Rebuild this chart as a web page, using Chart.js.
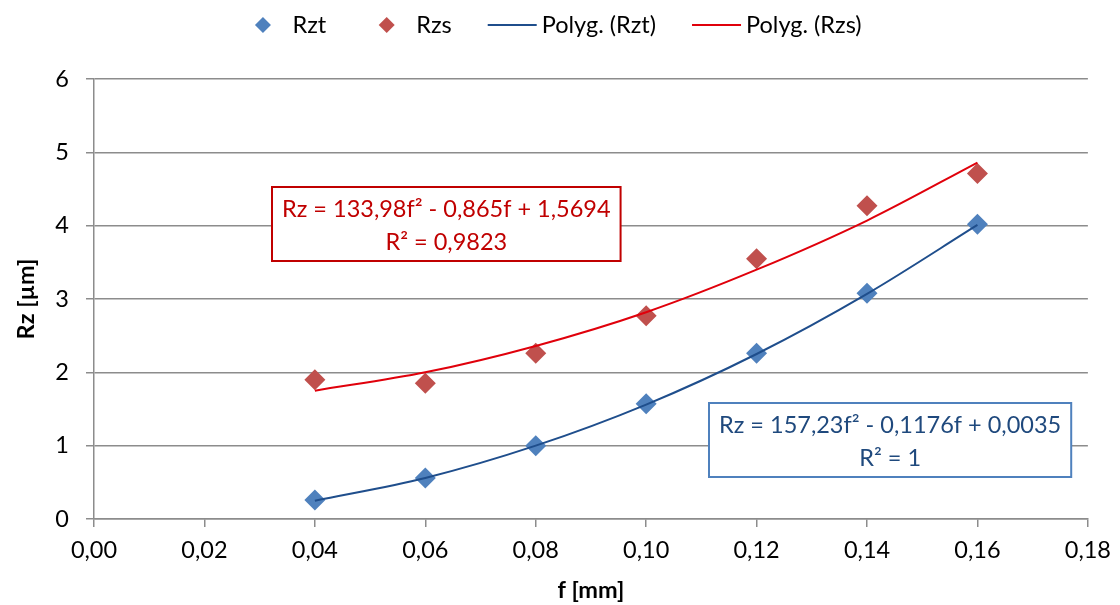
<!DOCTYPE html>
<html>
<head>
<meta charset="utf-8">
<script src="https://cdn.jsdelivr.net/npm/chart.js@4.4.1/dist/chart.umd.min.js"></script>
<style>
  html, body { margin: 0; padding: 0; background: #fff; }
</style>
</head>
<body>
<canvas id="chart" width="1120" height="605"></canvas>
<script>
// feed values f [mm]
const fValues = [0.04, 0.06, 0.08, 0.10, 0.12, 0.14, 0.16];
// measured roughness
const rztValues = [0.26, 0.56, 1.00, 1.57, 2.26, 3.08, 4.02];
const rzsValues = [1.90, 1.85, 2.26, 2.77, 3.55, 4.27, 4.71];
// trendline (Polyg.) values at each f
const rztTrend = [0.25, 0.56, 1.00, 1.56, 2.25, 3.07, 4.01];
const rzsTrend = [1.75, 2.00, 2.36, 2.82, 3.40, 4.07, 4.86];

const xTicks = [0, 0.02, 0.04, 0.06, 0.08, 0.10, 0.12, 0.14, 0.16, 0.18];
const yTicks = [0, 1, 2, 3, 4, 5, 6];

const seriesNames = ['Rzt', 'Rzs', 'Polyg. (Rzt)', 'Polyg. (Rzs)'];
const rzsEquation = ['Rz = 133,98f² - 0,865f + 1,5694', 'R² = 0,9823'];
const rztEquation = ['Rz = 157,23f² - 0,1176f + 0,0035', 'R² = 1'];

const FONT = 'Lato, "Open Sans", sans-serif';
const FS = 23.5;
const BLUE_PT = '#4F81BD';
const RED_PT = '#C0504D';
const BLUE_LN = '#1F4E8C';
const RED_LN = '#E0000B';
const GRID = '#8C8C8C';

function toPoints(ys) {
    return fValues.map((f, i) => ({ x: f, y: ys[i] }));
}

// draws the legend row at the top (diamonds for points, short lines for trendlines)
const legendPlugin = {
    id: 'topLegend',
    afterDraw(chart) {
        const ctx = chart.ctx;
        const items = [
            { text: seriesNames[0], kind: 'diamond', color: BLUE_PT },
            { text: seriesNames[1], kind: 'diamond', color: RED_PT },
            { text: seriesNames[2], kind: 'line', color: BLUE_LN },
            { text: seriesNames[3], kind: 'line', color: RED_LN }
        ];
        ctx.save();
        ctx.font = FS + 'px ' + FONT;
        const symW = 49, gapText = 5, gapItem = 36;
        let total = 0;
        items.forEach((it, i) => {
            it.w = ctx.measureText(it.text).width;
            total += symW + gapText + it.w + (i < items.length - 1 ? gapItem : 0);
        });
        let x = 550 - total / 2;
        const y = 25;
        items.forEach(it => {
            const cx = x + symW / 2;
            if (it.kind === 'diamond') {
                ctx.fillStyle = it.color;
                ctx.beginPath();
                ctx.moveTo(cx, y - 8);
                ctx.lineTo(cx + 8, y);
                ctx.lineTo(cx, y + 8);
                ctx.lineTo(cx - 8, y);
                ctx.closePath();
                ctx.fill();
            } else {
                ctx.strokeStyle = it.color;
                ctx.lineWidth = 2;
                ctx.beginPath();
                ctx.moveTo(x, y);
                ctx.lineTo(x + symW, y);
                ctx.stroke();
            }
            ctx.fillStyle = '#000';
            ctx.textAlign = 'left';
            ctx.textBaseline = 'middle';
            ctx.fillText(it.text, x + symW + gapText, y);
            x += symW + gapText + it.w + gapItem;
        });
        ctx.restore();
    }
};

// trendline equation boxes, anchored in data coordinates
const equationPlugin = {
    id: 'equations',
    afterDraw(chart) {
        const ctx = chart.ctx;
        const xs = chart.scales.x, ys = chart.scales.y;
        const boxes = [
            { lines: rzsEquation, fx: 0.0322, ry: 4.53, text: '#C00000', border: '#C00000' },
            { lines: rztEquation, fx: 0.1114, ry: 1.58, text: '#1F497D', border: '#4F81BD' }
        ];
        ctx.save();
        ctx.font = FS + 'px ' + FONT;
        boxes.forEach(b => {
            const left = Math.round(xs.getPixelForValue(b.fx));
            const top = Math.round(ys.getPixelForValue(b.ry));
            const w = Math.max(...b.lines.map(l => ctx.measureText(l).width)) + 20;
            const h = 74;
            ctx.fillStyle = '#fff';
            ctx.fillRect(left, top, w, h);
            ctx.strokeStyle = b.border;
            ctx.lineWidth = 2;
            ctx.strokeRect(left, top, w, h);
            ctx.fillStyle = b.text;
            ctx.textAlign = 'center';
            ctx.textBaseline = 'middle';
            ctx.fillText(b.lines[0], left + w / 2, top + 22);
            ctx.fillText(b.lines[1], left + w / 2, top + 55);
        });
        ctx.restore();
    }
};

const ctx = document.getElementById('chart').getContext('2d');
new Chart(ctx, {
    type: 'scatter',
    data: {
        datasets: [
            {
                label: seriesNames[0],
                data: toPoints(rztValues),
                pointStyle: 'rectRot',
                pointRadius: 10.5,
                pointBackgroundColor: BLUE_PT,
                pointBorderColor: BLUE_PT,
                pointBorderWidth: 0,
                showLine: false,
                order: 2
            },
            {
                label: seriesNames[1],
                data: toPoints(rzsValues),
                pointStyle: 'rectRot',
                pointRadius: 10.5,
                pointBackgroundColor: RED_PT,
                pointBorderColor: RED_PT,
                pointBorderWidth: 0,
                showLine: false,
                order: 2
            },
            {
                label: seriesNames[2],
                data: toPoints(rztTrend),
                showLine: true,
                borderColor: BLUE_LN,
                borderWidth: 2,
                pointRadius: 0,
                cubicInterpolationMode: 'monotone',
                order: 1
            },
            {
                label: seriesNames[3],
                data: toPoints(rzsTrend),
                showLine: true,
                borderColor: RED_LN,
                borderWidth: 2,
                pointRadius: 0,
                cubicInterpolationMode: 'monotone',
                order: 1
            }
        ]
    },
    options: {
        responsive: false,
        animation: false,
        layout: { padding: { top: 79, right: 26, left: 0, bottom: 0 } },
        plugins: {
            legend: { display: false },
            tooltip: { enabled: false }
        },
        scales: {
            x: {
                type: 'linear',
                min: 0,
                max: 0.18,
                afterBuildTicks: s => { s.ticks = xTicks.map(v => ({ value: v })); },
                afterFit: s => { s.height = 86; },
                ticks: {
                    font: { family: FONT, size: FS },
                    color: '#000',
                    padding: 9,
                    maxRotation: 0,
                    callback: v => v.toFixed(2).replace('.', ',')
                },
                grid: { drawOnChartArea: false, drawTicks: true, tickLength: 8, color: GRID, lineWidth: 1.5 },
                border: { color: GRID, width: 1.5 },
                title: {
                    display: true,
                    text: 'f [mm]',
                    font: { family: FONT, size: FS, weight: 'bold' },
                    color: '#000',
                    padding: { top: 0, bottom: 0 }
                }
            },
            y: {
                min: 0,
                max: 6,
                afterBuildTicks: s => { s.ticks = yTicks.map(v => ({ value: v })); },
                afterFit: s => { s.width = 94; },
                ticks: {
                    font: { family: FONT, size: FS },
                    color: '#000',
                    padding: 17
                },
                grid: { color: GRID, lineWidth: 1.5, drawTicks: true, tickLength: 8 },
                border: { color: GRID, width: 1.5 },
                title: {
                    display: true,
                    text: 'Rz [µm]',
                    font: { family: FONT, size: FS, weight: 'bold' },
                    color: '#000',
                    padding: { top: 12, bottom: 0 }
                }
            }
        }
    },
    plugins: [legendPlugin, equationPlugin]
});
</script>
</body>
</html>
